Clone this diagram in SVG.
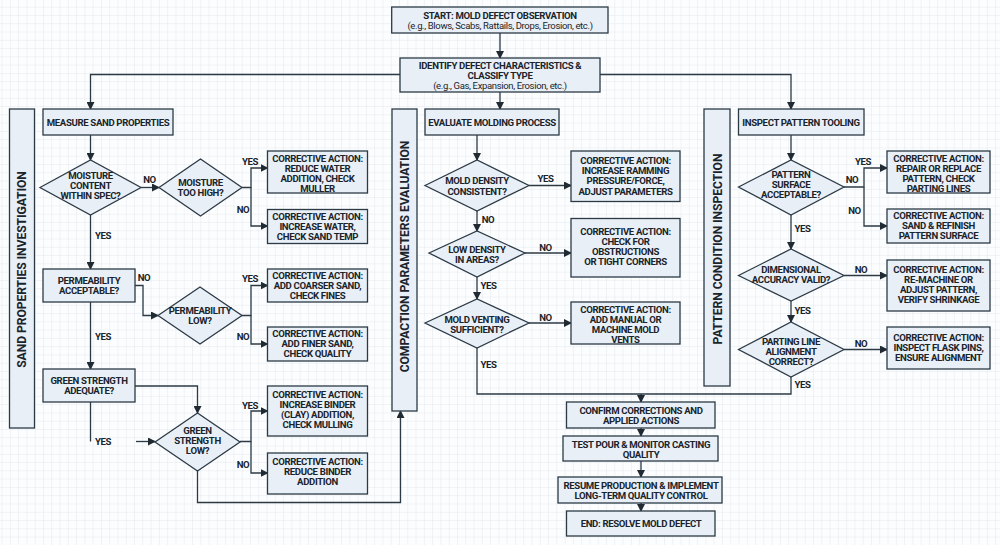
<svg xmlns="http://www.w3.org/2000/svg" width="1000" height="545" viewBox="0 0 1000 545">
<style>
text{font-family:Roboto,"Liberation Sans",sans-serif;font-weight:700;font-size:9.6px;letter-spacing:-.35px;fill:#1a242c;text-anchor:middle}
.b{fill:#e9eff6;stroke:#2c3a46;stroke-width:1.3}
.c{fill:none;stroke:#2c3a46;stroke-width:1.3}
.r{font-weight:400;font-size:9.5px}
.s{font-size:12.2px;letter-spacing:-.1px}
</style>
<defs>
<pattern id="g" x="1.6" y="6.7" width="8.28" height="8.28" patternUnits="userSpaceOnUse"><path d="M8.28 0H0V8.28" fill="none" stroke="#e3e7ec" stroke-width="1"/></pattern>
<marker id="a" viewBox="0 0 8 8" refX="7" refY="4" markerWidth="8" markerHeight="8" markerUnits="userSpaceOnUse" orient="auto"><path d="M0 0L8 4L0 8z" fill="#1f2a33"/></marker>
</defs>
<rect width="1000" height="545" fill="#fcfdfe"/>
<rect width="1000" height="545" fill="url(#g)"/>
<g id="connectors">
<path class="c" marker-end="url(#a)" d="M500 33V58"/>
<path class="c" marker-end="url(#a)" d="M400 74.5H90.5V109"/>
<path class="c" marker-end="url(#a)" d="M600 74.5H791V109"/>
<path class="c" marker-end="url(#a)" d="M500 92V109"/>
<path class="c" marker-end="url(#a)" d="M90.5 135V160"/>
<path class="c" marker-end="url(#a)" d="M141 187.5H159"/>
<path class="c" marker-end="url(#a)" d="M242 187.5H251V168H267.5"/>
<path class="c" marker-end="url(#a)" d="M251 187.5V226H267.5"/>
<path class="c" marker-end="url(#a)" d="M90.5 215V269"/>
<path class="c" marker-end="url(#a)" d="M135 285.5H143V315.5H158"/>
<path class="c" marker-end="url(#a)" d="M242 315.5H251V285.5H267.5"/>
<path class="c" marker-end="url(#a)" d="M251 315.5V344H267.5"/>
<path class="c" marker-end="url(#a)" d="M90.5 302V369"/>
<path class="c" marker-end="url(#a)" d="M135 386H197.5V413"/>
<path class="c" d="M90.5 402V441.5"/>
<path class="c" marker-end="url(#a)" d="M136 441.5H155"/>
<path class="c" marker-end="url(#a)" d="M240 441.5H251V411H267.5"/>
<path class="c" marker-end="url(#a)" d="M251 441.5V473H267.5"/>
<path class="c" marker-end="url(#a)" d="M197.5 471V502.5H400.5V411"/>
<path class="c" marker-end="url(#a)" d="M477 135V160"/>
<path class="c" marker-end="url(#a)" d="M529 185.5H571"/>
<path class="c" marker-end="url(#a)" d="M477 211V231"/>
<path class="c" marker-end="url(#a)" d="M525 253H571"/>
<path class="c" marker-end="url(#a)" d="M477 277V299"/>
<path class="c" marker-end="url(#a)" d="M529 323H571"/>
<path class="c" d="M477 348V394H791V377"/>
<path class="c" marker-end="url(#a)" d="M641 394V402"/>
<path class="c" marker-end="url(#a)" d="M641 428V436"/>
<path class="c" marker-end="url(#a)" d="M641 461V477"/>
<path class="c" marker-end="url(#a)" d="M641 503V511"/>
<path class="c" marker-end="url(#a)" d="M791 135V160"/>
<path class="c" marker-end="url(#a)" d="M844 187H864V168H887"/>
<path class="c" marker-end="url(#a)" d="M864 187V226H887"/>
<path class="c" marker-end="url(#a)" d="M791 215V249"/>
<path class="c" marker-end="url(#a)" d="M844 275.5H887"/>
<path class="c" marker-end="url(#a)" d="M791 301V322"/>
<path class="c" marker-end="url(#a)" d="M844 349.5H887"/>
</g>
<g id="start"><rect class="b" x="391.7" y="7" width="216.3" height="26"/><text x="500" y="18.5">START: MOLD DEFECT OBSERVATION</text><text class="r" x="500" y="28.5">(e.g., Blows, Scabs, Rattails, Drops, Erosion, etc.)</text></g>
<g id="identify"><rect class="b" x="400" y="58" width="200" height="34"/><text x="500" y="68.5">IDENTIFY DEFECT CHARACTERISTICS &amp;</text><text x="500" y="78.5">CLASSIFY TYPE</text><text class="r" x="500" y="88.5">(e.g., Gas, Expansion, Erosion, etc.)</text></g>
<g id="side1"><rect class="b" x="9.5" y="109" width="25" height="319"/><text class="s" transform="translate(26 269.5) rotate(-90)">SAND PROPERTIES INVESTIGATION</text></g>
<g id="side2"><rect class="b" x="392" y="109" width="25" height="302"/><text class="s" transform="translate(408.5 256.5) rotate(-90)">COMPACTION PARAMETERS EVALUATION</text></g>
<g id="side3"><rect class="b" x="704" y="109" width="26" height="277"/><text class="s" transform="translate(721.5 249) rotate(-90)">PATTERN CONDITION INSPECTION</text></g>
<g id="measure"><rect class="b" x="43" y="109" width="130" height="26"/><text x="108" y="125.5">MEASURE SAND PROPERTIES</text></g>
<g id="moisture"><polygon class="b" points="40,187.5 90.5,160 141,187.5 90.5,215"/><text x="90.5" y="179">MOISTURE</text><text x="90.5" y="189">CONTENT</text><text x="90.5" y="199">WITHIN SPEC?</text></g>
<g id="toohigh"><polygon class="b" points="159,187.5 200.5,159 242,187.5 200.5,216"/><text x="200.5" y="186">MOISTURE</text><text x="200.5" y="196">TOO HIGH?</text></g>
<g id="ca1"><rect class="b" x="267.5" y="151" width="100" height="42"/><text x="317.5" y="161.5">CORRECTIVE ACTION:</text><text x="317.5" y="171.5">REDUCE WATER</text><text x="317.5" y="181.5">ADDITION, CHECK</text><text x="317.5" y="191.5">MULLER</text></g>
<g id="ca2"><rect class="b" x="267.5" y="209.5" width="100" height="34"/><text x="317.5" y="219.5">CORRECTIVE ACTION:</text><text x="317.5" y="229.5">INCREASE WATER,</text><text x="317.5" y="239.5">CHECK SAND TEMP</text></g>
<g id="perm"><rect class="b" x="43" y="269" width="92" height="33"/><text x="89" y="284">PERMEABILITY</text><text x="89" y="294">ACCEPTABLE?</text></g>
<g id="permlow"><polygon class="b" points="158,315.5 200,287 242,315.5 200,344"/><text x="200" y="314">PERMEABILITY</text><text x="200" y="324">LOW?</text></g>
<g id="ca3"><rect class="b" x="267.5" y="269" width="100" height="33"/><text x="317.5" y="278.5">CORRECTIVE ACTION:</text><text x="317.5" y="288.5">ADD COARSER SAND,</text><text x="317.5" y="298.5">CHECK FINES</text></g>
<g id="ca4"><rect class="b" x="267.5" y="327" width="100" height="34"/><text x="317.5" y="337">CORRECTIVE ACTION:</text><text x="317.5" y="347">ADD FINER SAND,</text><text x="317.5" y="357">CHECK QUALITY</text></g>
<g id="green"><rect class="b" x="43" y="369" width="92" height="33"/><text x="89" y="384">GREEN STRENGTH</text><text x="89" y="394">ADEQUATE?</text></g>
<g id="greenlow"><polygon class="b" points="155,442 197.5,413 240,442 197.5,471"/><text x="197.5" y="434">GREEN</text><text x="197.5" y="444">STRENGTH</text><text x="197.5" y="454">LOW?</text></g>
<g id="ca5"><rect class="b" x="267.5" y="386" width="100" height="50"/><text x="317.5" y="398">CORRECTIVE ACTION:</text><text x="317.5" y="408">INCREASE BINDER</text><text x="317.5" y="418">(CLAY) ADDITION,</text><text x="317.5" y="428">CHECK MULLING</text></g>
<g id="ca6"><rect class="b" x="267.5" y="453" width="100" height="41"/><text x="317.5" y="465">CORRECTIVE ACTION:</text><text x="317.5" y="475">REDUCE BINDER</text><text x="317.5" y="485">ADDITION</text></g>
<g id="evaluate"><rect class="b" x="425" y="109" width="134" height="26"/><text x="492" y="125.5">EVALUATE MOLDING PROCESS</text></g>
<g id="density"><polygon class="b" points="425,185.5 477,160 529,185.5 477,211"/><text x="477" y="184">MOLD DENSITY</text><text x="477" y="194.5">CONSISTENT?</text></g>
<g id="ca7"><rect class="b" x="571" y="151" width="109" height="50.5"/><text x="625.5" y="164">CORRECTIVE ACTION:</text><text x="625.5" y="174">INCREASE RAMMING</text><text x="625.5" y="184">PRESSURE/FORCE,</text><text x="625.5" y="194.5">ADJUST PARAMETERS</text></g>
<g id="lowdensity"><polygon class="b" points="429,253 477,231 525,253 477,277"/><text x="477" y="253">LOW DENSITY</text><text x="477" y="263">IN AREAS?</text></g>
<g id="ca8"><rect class="b" x="571" y="218.5" width="109" height="58.5"/><text x="625.5" y="234.5">CORRECTIVE ACTION:</text><text x="625.5" y="244.5">CHECK FOR</text><text x="625.5" y="254.5">OBSTRUCTIONS</text><text x="625.5" y="265">OR TIGHT CORNERS</text></g>
<g id="venting"><polygon class="b" points="425,323 477,299 529,323 477,348"/><text x="477" y="322.5">MOLD VENTING</text><text x="477" y="332.5">SUFFICIENT?</text></g>
<g id="ca9"><rect class="b" x="571" y="302" width="109" height="42"/><text x="625.5" y="312.5">CORRECTIVE ACTION:</text><text x="625.5" y="322.5">ADD MANUAL OR</text><text x="625.5" y="332.5">MACHINE MOLD</text><text x="625.5" y="342.5">VENTS</text></g>
<g id="confirm"><rect class="b" x="566.5" y="402" width="148.5" height="26"/><text x="641" y="413.5">CONFIRM CORRECTIONS AND</text><text x="641" y="423.5">APPLIED ACTIONS</text></g>
<g id="test"><rect class="b" x="563" y="436" width="155" height="25"/><text x="641" y="447.5">TEST POUR &amp; MONITOR CASTING</text><text x="641" y="457.5">QUALITY</text></g>
<g id="resume"><rect class="b" x="558" y="477" width="164" height="26"/><text x="641" y="488.5">RESUME PRODUCTION &amp; IMPLEMENT</text><text x="641" y="498.5">LONG-TERM QUALITY CONTROL</text></g>
<g id="end"><rect class="b" x="566.5" y="511" width="148.5" height="25"/><text x="641" y="527">END: RESOLVE MOLD DEFECT</text></g>
<g id="inspect"><rect class="b" x="738.5" y="109" width="125.5" height="26"/><text x="801" y="125.5">INSPECT PATTERN TOOLING</text></g>
<g id="surface"><polygon class="b" points="738.5,187 791,160 844,187 791,215"/><text x="791" y="178">PATTERN</text><text x="791" y="188">SURFACE</text><text x="791" y="198">ACCEPTABLE?</text></g>
<g id="ca10"><rect class="b" x="887" y="151" width="103" height="42"/><text x="938.5" y="161.5">CORRECTIVE ACTION:</text><text x="938.5" y="171.5">REPAIR OR REPLACE</text><text x="938.5" y="181.5">PATTERN, CHECK</text><text x="938.5" y="191.5">PARTING LINES</text></g>
<g id="ca11"><rect class="b" x="887" y="209" width="103" height="34"/><text x="938.5" y="219">CORRECTIVE ACTION:</text><text x="938.5" y="229">SAND &amp; REFINISH</text><text x="938.5" y="239">PATTERN SURFACE</text></g>
<g id="dim"><polygon class="b" points="738.5,275.5 791,249 844,275.5 791,301"/><text x="791" y="272.5">DIMENSIONAL</text><text x="791" y="282.5">ACCURACY VALID?</text></g>
<g id="ca12"><rect class="b" x="887" y="260" width="103" height="51"/><text x="938.5" y="272.5">CORRECTIVE ACTION:</text><text x="938.5" y="282.5">RE-MACHINE OR</text><text x="938.5" y="292.5">ADJUST PATTERN,</text><text x="938.5" y="302.5">VERIFY SHRINKAGE</text></g>
<g id="parting"><polygon class="b" points="738.5,349.5 791,322 844,349.5 791,377"/><text x="791" y="345">PARTING LINE</text><text x="791" y="355">ALIGNMENT</text><text x="791" y="365">CORRECT?</text></g>
<g id="ca13"><rect class="b" x="887" y="327" width="103" height="42"/><text x="938.5" y="341">CORRECTIVE ACTION:</text><text x="938.5" y="351">INSPECT FLASK PINS,</text><text x="938.5" y="361">ENSURE ALIGNMENT</text></g>
<g id="labels">
<text x="149.5" y="183">NO</text><text x="250" y="165">YES</text><text x="243" y="213">NO</text><text x="103" y="239">YES</text>
<text x="144" y="281">NO</text><text x="250" y="282">YES</text><text x="243" y="340">NO</text><text x="103" y="340">YES</text>
<text x="103" y="445">YES</text><text x="250" y="409">YES</text><text x="243" y="468">NO</text>
<text x="545.5" y="182">YES</text><text x="488" y="223">NO</text><text x="545.5" y="251">NO</text><text x="488.5" y="289">YES</text><text x="545.5" y="321">NO</text><text x="488.5" y="368">YES</text>
<text x="852" y="183">NO</text><text x="863" y="165">YES</text><text x="854.5" y="214">NO</text><text x="802.5" y="232">YES</text><text x="861" y="273">NO</text><text x="802.5" y="314">YES</text><text x="861" y="347">NO</text><text x="802.5" y="388">YES</text>
</g>
</svg>
